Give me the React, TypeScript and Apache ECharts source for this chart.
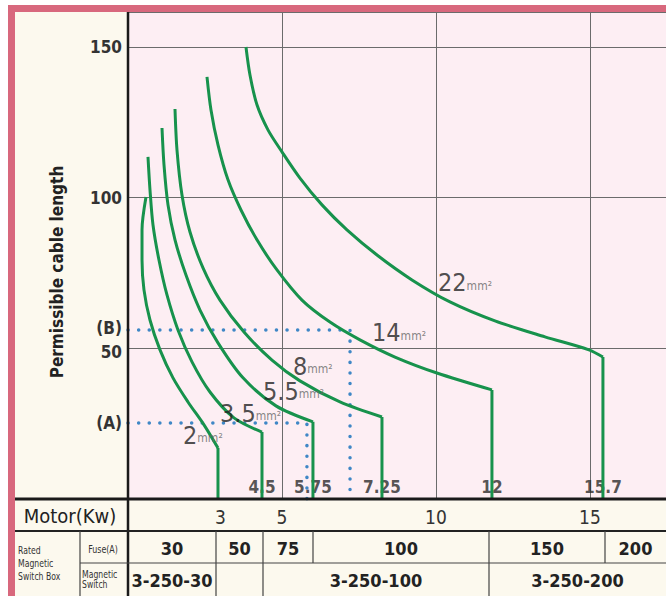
import React, { useEffect, useRef } from "react";
import * as echarts from "echarts";

// ---------- DATA ----------
const curveNames = ["2", "3.5", "5.5", "8", "14", "22"];

const curve2 = [[0.584, 100.2], [0.455, 89.3], [0.455, 79.3], [0.519, 69.4], [0.714, 59.4], [1.039, 49.5], [1.461, 40.2], [1.948, 32.2], [2.468, 24.6], [2.922, 16.9]];
const curve35 = [[0.649, 113.5], [0.714, 102.6], [0.812, 90.9], [1.006, 79.3], [1.266, 67.7], [1.623, 56.1], [2.078, 45.5], [2.662, 35.5], [3.442, 26.9], [4.351, 22.2]];
const curve55 = [[1.104, 123.1], [1.169, 110.9], [1.299, 97.6], [1.526, 86.0], [1.883, 74.3], [2.338, 62.7], [2.922, 51.8], [3.734, 40.2], [4.805, 30.9], [6.006, 25.6]];
const curve8 = [[1.526, 129.4], [1.591, 115.8], [1.753, 100.9], [2.013, 88.6], [2.435, 76.7], [2.987, 66.0], [3.766, 55.4], [4.675, 46.1], [5.584, 39.2], [6.883, 32.2], [8.247, 27.2]];
const curve14 = [[2.565, 140.1], [2.695, 129.1], [2.922, 117.5], [3.247, 105.9], [3.669, 95.9], [4.188, 86.0], [4.838, 76.0], [5.649, 66.0], [6.558, 58.7], [7.532, 52.8], [8.669, 47.1], [10.032, 41.8], [11.818, 36.2]];
const curve22 = [[3.831, 150.0], [3.961, 140.7], [4.188, 130.8], [4.545, 122.5], [5.0, 115.2], [5.584, 106.5], [6.299, 97.6], [7.11, 89.3], [8.117, 80.7], [9.221, 72.7], [10.455, 65.4], [11.916, 59.1], [13.539, 53.8], [14.968, 49.5], [15.422, 47.1]];
const curves = [curve2, curve35, curve55, curve8, curve14, curve22];

// where each size label sits (data coords)
const sizeLabelAt = [[1.786, 21.2], [2.987, 28.5], [4.383, 35.8], [5.357, 44.1], [7.922, 55.1], [10.065, 71.7]];

// labels written on the vertical drops (curves 3.5 .. 22)
const dropLabels = ["4.5", "5.75", "7.25", "12", "15.7"];

const pointA = [5.81, 25.2];
const pointB = [7.21, 56.1];

const yTickValues = [50, 100, 150];
const motorKw = [3, 5, 10, 15];

const fuseLabels = ["30", "50", "75", "100", "150", "200"];
const switchLabels = ["3-250-30", "", "3-250-100", "3-250-200"];

// ---------- LAYOUT / STYLE ----------
const W = 666;
const H = 596;
const PLOT_LEFT = 128;
const PLOT_TOP = 12;
const PLOT_BOTTOM = 499;
const MOTOR_BOTTOM = 531;
const FUSE_BOTTOM = 563;
const LEFT_SPLIT = 80;
const FUSE_EDGES = [128, 216, 263, 313, 489, 605, 666];
const SWITCH_EDGES = [128, 216, 263, 489, 666];
const X_MAX = 17.47;
const Y_MAX = 161.6;
const DROP_LABEL_Y = 4.0;

const GREEN = "#17924c";
const BLUE = "#3f87c6";
const RED = "#d8687d";
const CREAM = "#fcf9ee";
const PINK = "#fdeef3";
const INK = "#222";
const FONT = "'DejaVu Sans Condensed','DejaVu Sans',sans-serif";

function txt(x: number, y: number, text: string, size: number, opts: any = {}) {
  const align = opts.align || "center";
  const valign = opts.valign || "middle";
  return {
    type: "text",
    x,
    y,
    rotation: opts.rotation || 0,
    scaleX: opts.scaleX || 1,
    z: 100,
    silent: true,
    style: {
      text,
      fill: opts.color || INK,
      fontSize: size,
      fontFamily: FONT,
      fontWeight: opts.weight || "normal",
      lineHeight: opts.lineHeight,
      align,
      verticalAlign: valign,
      textAlign: align,
      textVerticalAlign: valign,
    },
  };
}

function ln(x1: number, y1: number, x2: number, y2: number, w: number, color = "#1a1a1a") {
  return { type: "line", z: 100, silent: true, shape: { x1, y1, x2, y2 }, style: { stroke: color, lineWidth: w } };
}

function rc(x: number, y: number, w: number, h: number, fill: string) {
  return { type: "rect", z: 99, silent: true, shape: { x, y, width: w, height: h }, style: { fill } };
}

export default function App() {
  const ref = useRef<HTMLDivElement>(null);

  useEffect(() => {
    if (!ref.current) return;
    const chart = echarts.init(ref.current, null, { renderer: "svg" });

    const series: any[] = [];
    curves.forEach((c) => {
      series.push({
        type: "line",
        data: c,
        smooth: 0.3,
        showSymbol: false,
        silent: true,
        z: 4,
        lineStyle: { color: GREEN, width: 3 },
      });
      const last = c[c.length - 1];
      series.push({
        type: "line",
        data: [last, [last[0], 0]],
        showSymbol: false,
        silent: true,
        z: 4,
        lineStyle: { color: GREEN, width: 3 },
      });
    });

    [pointA, pointB].forEach((p) => {
      series.push({
        type: "line",
        data: [[0, p[1]], [p[0], p[1]], [p[0], 0]],
        showSymbol: false,
        silent: true,
        z: 3,
        lineStyle: { color: BLUE, width: 3.5, type: [0.1, 10.5], cap: "round" },
      });
    });

    series.push({
      type: "scatter",
      symbolSize: 0.1,
      silent: true,
      z: 5,
      itemStyle: { color: "transparent" },
      data: sizeLabelAt.map((p, i) => ({ value: p, name: curveNames[i] })),
      label: {
        show: true,
        position: "right",
        distance: 0,
        formatter: (p: any) => `{n|${p.name}}{u|mm²}`,
        rich: {
          n: { fontSize: 25, fontFamily: FONT, color: INK },
          u: { fontSize: 12, fontFamily: FONT, color: "#666", padding: [6, 0, 0, 0] },
        },
      },
    });

    series.push({
      type: "scatter",
      symbolSize: 0.1,
      silent: true,
      z: 2,
      itemStyle: { color: "transparent" },
      data: dropLabels.map((t, i) => ({ value: [curves[i + 1][curves[i + 1].length - 1][0], DROP_LABEL_Y], name: t })),
      label: {
        show: true,
        position: "inside",
        formatter: "{b}",
        fontSize: 17,
        fontWeight: "bold",
        fontFamily: FONT,
        color: "#2a2a2a",
      },
    });

    const isNear = (a: number, b: number) => Math.abs(a - b) < 0.01;

    const graphic: any[] = [
      rc(0, 0, W, 5, "#ffffff"),
      rc(0, 0, 8, H, "#ffffff"),
      rc(8, 5, W - 8, 7, RED),
      rc(8, 5, 7, H - 5, RED),
      ln(PLOT_LEFT, PLOT_TOP, PLOT_LEFT, H, 2.5),
      ln(15, PLOT_BOTTOM, W, PLOT_BOTTOM, 3),
      ln(15, MOTOR_BOTTOM, W, MOTOR_BOTTOM, 2, "#222"),
      ln(LEFT_SPLIT, FUSE_BOTTOM, W, FUSE_BOTTOM, 1.2, "#444"),
      ln(LEFT_SPLIT, MOTOR_BOTTOM, LEFT_SPLIT, H, 1.2, "#444"),
      txt(57, 272, "Permissible cable length", 17, { rotation: Math.PI / 2, weight: "bold" }),
      txt(70, 516, "Motor(Kw)", 20),
      txt(18, 563, "Rated\nMagnetic\nSwitch Box", 11, { align: "left", lineHeight: 13, color: "#333", scaleX: 0.78 }),
      txt(103, 549, "Fuse(A)", 11, { color: "#333", scaleX: 0.8 }),
      txt(82, 579, "Magnetic\nSwitch", 11, { align: "left", lineHeight: 10, color: "#333", scaleX: 0.78 }),
    ];
    FUSE_EDGES.slice(1, -1).forEach((x) => graphic.push(ln(x, MOTOR_BOTTOM, x, FUSE_BOTTOM, 1.2, "#444")));
    SWITCH_EDGES.slice(1, -1).forEach((x) => graphic.push(ln(x, FUSE_BOTTOM, x, H, 1.2, "#444")));
    fuseLabels.forEach((t, i) => {
      const cx = (FUSE_EDGES[i] + FUSE_EDGES[i + 1]) / 2;
      graphic.push(txt(cx, 548, t, 18, { weight: "bold" }));
    });
    switchLabels.forEach((t, i) => {
      if (!t) return;
      const cx = (SWITCH_EDGES[i] + SWITCH_EDGES[i + 1]) / 2;
      graphic.push(txt(cx, 580, t, 18, { weight: "bold" }));
    });

    chart.setOption({
      animation: false,
      backgroundColor: CREAM,
      grid: {
        left: PLOT_LEFT,
        top: PLOT_TOP,
        right: 0,
        bottom: H - PLOT_BOTTOM,
        show: true,
        backgroundColor: PINK,
        borderWidth: 0,
      },
      xAxis: {
        type: "value",
        min: 0,
        max: X_MAX,
        interval: 5,
        axisLine: { show: false },
        axisTick: { show: false },
        splitLine: { show: true, lineStyle: { color: "#6b6b6b", width: 1 } },
        axisLabel: {
          customValues: motorKw,
          margin: 8,
          fontSize: 19,
          fontFamily: FONT,
          color: "#333",
        },
      },
      yAxis: {
        type: "value",
        min: 0,
        max: Y_MAX,
        interval: 50,
        axisLine: { show: false },
        axisTick: { show: false },
        splitLine: { show: true, lineStyle: { color: "#6b6b6b", width: 1 } },
        axisLabel: {
          customValues: [pointA[1], ...yTickValues.slice(0, 1), pointB[1], ...yTickValues.slice(1)],
          margin: 6,
          fontSize: 17,
          fontWeight: "bold",
          fontFamily: FONT,
          color: "#333",
          formatter: (v: number) =>
            isNear(v, pointA[1]) ? "(A)" : isNear(v, pointB[1]) ? "{b|(B)}" : isNear(v, 50) ? "{d|50}" : String(v),
          rich: {
            b: { fontSize: 17, fontWeight: "bold", fontFamily: FONT, color: "#333", padding: [0, 0, 4, 0] },
            d: { fontSize: 17, fontWeight: "bold", fontFamily: FONT, color: "#333", padding: [7, 0, 0, 0] },
          },
        },
      },
      series,
      graphic,
    });

    return () => chart.dispose();
  }, []);

  return <div ref={ref} style={{ position: "fixed", left: 0, top: 0, width: W, height: H }} />;
}
